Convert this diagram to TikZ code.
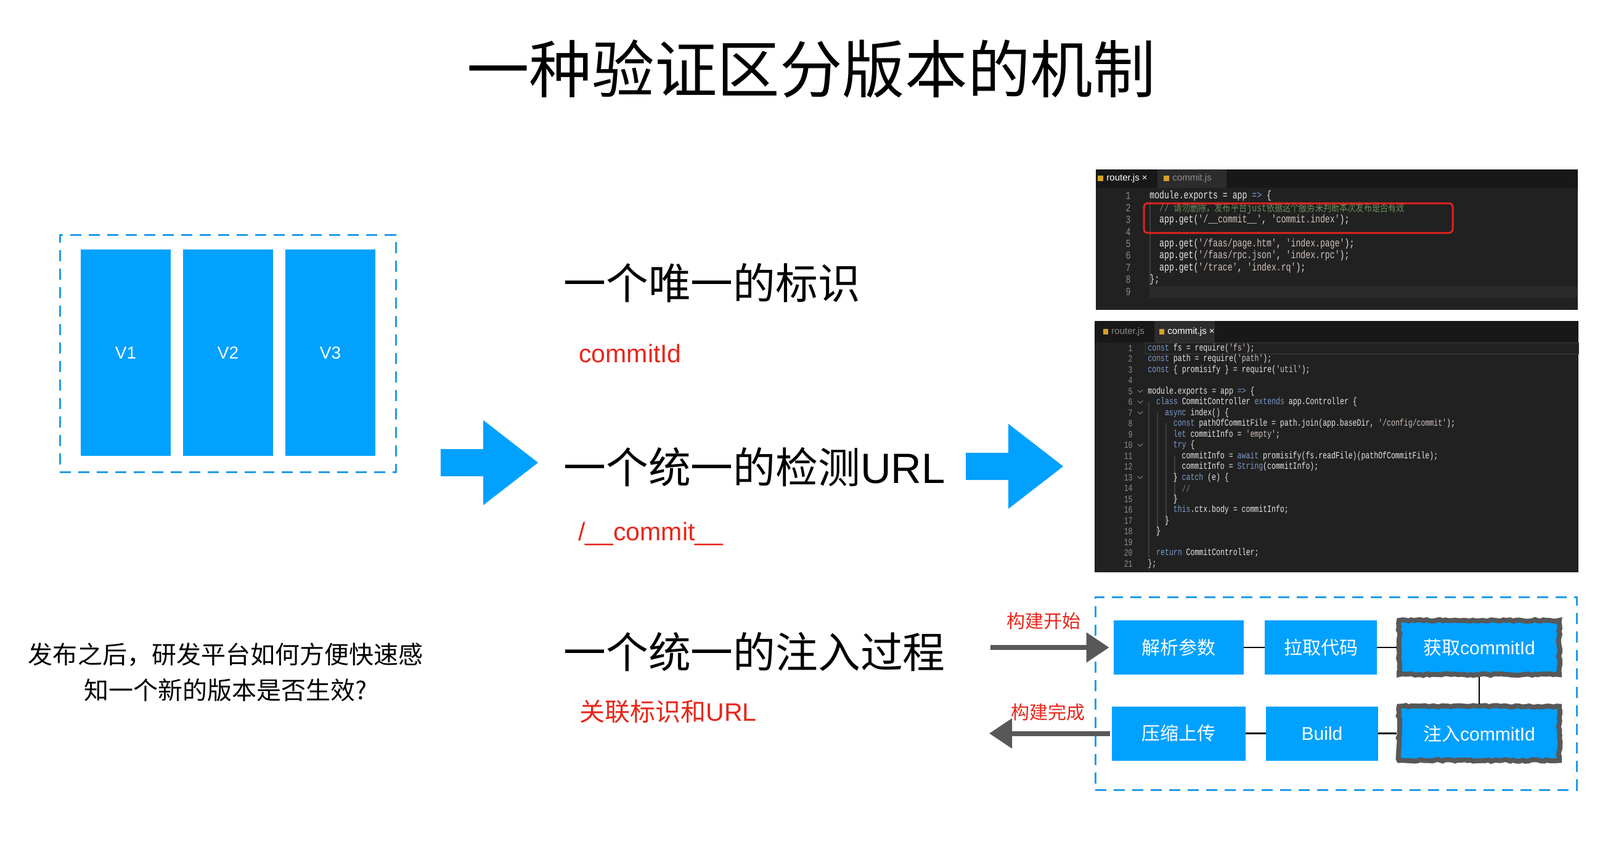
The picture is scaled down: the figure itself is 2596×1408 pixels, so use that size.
\documentclass[tikz,border=0pt]{standalone}
\usepackage{fontspec}
\setmainfont{Liberation Sans}
\newfontfamily\cjk{Noto Sans CJK SC}
\newfontfamily\codefont[FakeStretch=0.74,Ligatures=TeXOff]{Liberation Mono}
\newfontfamily\cjkcode[FakeStretch=0.74]{Noto Sans CJK SC}
\usetikzlibrary{arrows.meta,decorations.pathmorphing}
\definecolor{vblue}{RGB}{0,161,255}
\definecolor{dashblue}{RGB}{30,155,232}
\definecolor{tred}{RGB}{232,38,26}
\definecolor{sketch}{RGB}{88,88,88}
\definecolor{edbg}{RGB}{33,33,33}
\definecolor{tabbar}{RGB}{24,24,24}
\definecolor{tabon}{RGB}{44,44,44}
\definecolor{codefg}{RGB}{232,232,232}
\definecolor{lnum}{RGB}{140,140,140}
\definecolor{kw}{RGB}{125,155,205}
\definecolor{strc}{RGB}{210,195,190}
\definecolor{cmt}{RGB}{105,145,90}
\definecolor{guide}{RGB}{62,62,62}
\definecolor{curline}{RGB}{42,42,42}
\definecolor{jsicon}{RGB}{215,160,40}
\definecolor{hlred}{RGB}{225,35,30}
\newcommand\kwd[1]{\textcolor{kw}{#1}}
\newcommand\strg[1]{\textcolor{strc}{#1}}
\newcommand\codeT[3]{%
  \node[lnt] (tn#1) at (1835,{318+(#1-1)*19.4}) {#1};
  \node[cdt] (tc#1) at ({1865+#2*7.9},{318+(#1-1)*19.4}) {#3};}
\newcommand\codeB[3]{%
  \node[lnb] (bn#1) at (1838,{565+(#1-1)*17.5}) {#1};
  \node[cdb] (bc#1) at ({1862+#2*6.9},{565+(#1-1)*17.5}) {#3};}
\newcommand\foldmark[1]{%
  \draw[lnum, line width=0.5pt] (1846,{565+(#1-1)*17.5-2}) -- (1850,{565+(#1-1)*17.5+2}) -- (1854,{565+(#1-1)*17.5-2});}
\tikzset{
  vbox/.style={fill=vblue, text=white, font=\fontsize{14}{16}\selectfont, minimum width=73pt, minimum height=167.5pt, inner sep=0},
  dashbox/.style={draw=dashblue, line width=1.5pt, dash pattern=on 9pt off 6pt, inner sep=0},
  flowbox/.style={fill=vblue, text=white, font=\fontsize{15}{18}\selectfont, minimum height=44pt, inner sep=0},
  roughbox/.style={flowbox, draw=sketch, line width=4pt, decorate, decoration={random steps, segment length=2.5pt, amplitude=0.7pt}},
  link/.style={draw=black, line width=1.3pt},
  sketcharrow/.style={draw=sketch, line width=4pt, -{Triangle[length=18.5pt,width=23.5pt]}},
  bigtitle/.style={font=\cjk\fontsize{50.8}{60}\selectfont, inner sep=0},
  headline/.style={font=\fontsize{34.4}{40}\selectfont, anchor=west, inner sep=0},
  redline/.style={font=\fontsize{20.5}{24}\selectfont, text=tred, anchor=base west, inner sep=0},
  smallred/.style={font=\cjk\fontsize{15}{18}\selectfont, text=tred, inner sep=0},
  lnt/.style={font=\codefont\fontsize{8.9}{10}\selectfont, text=lnum, anchor=east, inner sep=0},
  cdt/.style={font=\codefont\fontsize{8.9}{10}\selectfont, text=codefg, anchor=west, inner sep=0},
  lnb/.style={font=\codefont\fontsize{7.8}{9}\selectfont, text=lnum, anchor=east, inner sep=0},
  cdb/.style={font=\codefont\fontsize{7.8}{9}\selectfont, text=codefg, anchor=west, inner sep=0},
  tabtxt/.style={font=\fontsize{7.5}{9}\selectfont, anchor=west, inner sep=0},
}
\begin{document}
\begin{tikzpicture}[x=0.5pt, y=-0.5pt]
\fill[white] (0,0) rectangle (2596,1408);
\useasboundingbox (0,0) rectangle (2596,1408);

% title
\node[bigtitle] (title) at (1316,112) {一种验证区分版本的机制};

% left group of versions
\node[dashbox, minimum width=272.5pt, minimum height=192.5pt] (vgroup) at (369.5,573.5) {};
\node[vbox] (v1) at (204,572.5) {V1};
\node[vbox] (v2) at (370,572.5) {V2};
\node[vbox] (v3) at (536,572.5) {V3};

% question
\node[font=\cjk\fontsize{20}{29}\selectfont, align=center, inner sep=0] (q) at (366,1091) {发布之后，研发平台如何方便快速感\\知一个新的版本是否生效?};

% big arrows
\fill[vblue] (715,729) -- (784,729) -- (784,682) -- (873,751) -- (784,820) -- (784,773) -- (715,773) -- cycle;
\fill[vblue] (1567,735) -- (1636,735) -- (1636,688) -- (1725,757) -- (1636,826) -- (1636,779) -- (1567,779) -- cycle;

% middle texts
\node[headline] (h1) at (914,459) {\cjk 一个唯一的标识};
\node[redline] (r1) at (939,588) {commitId};
\node[headline] (h2) at (914,758) {{\cjk 一个统一的检测}URL};
\node[redline] (r2) at (938,877) {/\_\_commit\_\_};
\node[headline] (h3) at (914,1058) {\cjk 一个统一的注入过程};
\node[redline] (r3) at (940,1170) {{\cjk 关联标识和}URL};

% ---------- top code screenshot ----------
\fill[edbg] (1778,275) rectangle (2560,503);
\fill[tabbar] (1778,275) rectangle (2560,305);
\fill[tabon] (1878,275) rectangle (1990,305);
\fill[curline] (1865,465) rectangle (2560,484);
\draw[guide, line width=0.6pt] (1866,327) -- (1866,464);
\fill[jsicon] (1781,285) rectangle (1790,294);
\node[tabtxt, text=white] (tt1) at (1795,290) {router.js ×};
\fill[jsicon] (1888,285) rectangle (1897,294);
\node[tabtxt, text=lnum] (tt2) at (1902,290) {commit.js};
\codeT{1}{0}{module.exports = app \kwd{=>} \{}
\codeT{2}{2}{\textcolor{cmt}{// {\cjkcode 请勿删除，发布平台}just{\cjkcode 依据这个服务来判断本次发布是否有效}}}
\codeT{3}{2}{app.get(\strg{'/\_\_commit\_\_'}, \strg{'commit.index'});}
\codeT{4}{0}{}
\codeT{5}{2}{app.get(\strg{'/faas/page.htm'}, \strg{'index.page'});}
\codeT{6}{2}{app.get(\strg{'/faas/rpc.json'}, \strg{'index.rpc'});}
\codeT{7}{2}{app.get(\strg{'/trace'}, \strg{'index.rq'});}
\codeT{8}{0}{\};}
\codeT{9}{0}{}
\draw[hlred, line width=1.5pt, rounded corners=3pt] (1856,330) rectangle (2357,378);

% ---------- bottom code screenshot ----------
\fill[edbg] (1776,521) rectangle (2561,929);
\fill[tabbar] (1776,521) rectangle (2561,556);
\fill[tabon] (1873,521) rectangle (1971,556);
\draw[guide, line width=0.5pt] (1858,556) rectangle (2561,574);
\fill[jsicon] (1790,534) rectangle (1798,543);
\node[tabtxt, text=lnum] (bt1) at (1803,539) {router.js};
\fill[jsicon] (1881,534) rectangle (1889,543);
\node[tabtxt, text=white] (bt2) at (1894,539) {commit.js ×};
\draw[guide, line width=0.6pt] (1864,652) -- (1864,906);
\draw[guide, line width=0.6pt] (1878,670) -- (1878,871);
\draw[guide, line width=0.6pt] (1892,687) -- (1892,853);
\draw[guide, line width=0.6pt] (1906,740) -- (1906,818);
\codeB{1}{0}{\kwd{const} fs = require(\strg{'fs'});}
\codeB{2}{0}{\kwd{const} path = require(\strg{'path'});}
\codeB{3}{0}{\kwd{const} \{ promisify \} = require(\strg{'util'});}
\codeB{4}{0}{}
\codeB{5}{0}{module.exports = app \kwd{=>} \{}
\codeB{6}{2}{\kwd{class} CommitController \kwd{extends} app.Controller \{}
\codeB{7}{4}{\kwd{async} index() \{}
\codeB{8}{6}{\kwd{const} pathOfCommitFile = path.join(app.baseDir, \strg{'/config/commit'});}
\codeB{9}{6}{\kwd{let} commitInfo = \strg{'empty'};}
\codeB{10}{6}{\kwd{try} \{}
\codeB{11}{8}{commitInfo = \kwd{await} promisify(fs.readFile)(pathOfCommitFile);}
\codeB{12}{8}{commitInfo = \kwd{String}(commitInfo);}
\codeB{13}{6}{\} \kwd{catch} (e) \{}
\codeB{14}{8}{\textcolor{cmt}{//}}
\codeB{15}{6}{\}}
\codeB{16}{6}{\kwd{this}.ctx.body = commitInfo;}
\codeB{17}{4}{\}}
\codeB{18}{2}{\}}
\codeB{19}{0}{}
\codeB{20}{2}{\kwd{return} CommitController;}
\codeB{21}{0}{\};}
\foldmark{5}
\foldmark{6}
\foldmark{7}
\foldmark{10}
\foldmark{13}

% ---------- build flow ----------
\node[dashbox, minimum width=390.5pt, minimum height=156.5pt] (flowgroup) at (2167.5,1125.5) {};
\node[flowbox, minimum width=105.5pt] (p1) at (1912.5,1051) {\cjk 解析参数};
\node[flowbox, minimum width=91pt] (p2) at (2143,1051) {\cjk 拉取代码};
\node[roughbox, minimum width=130pt] (p3) at (2400,1051) {{\cjk 获取}commitId};
\node[roughbox, minimum width=130pt] (p4) at (2400,1190.5) {{\cjk 注入}commitId};
\node[flowbox, minimum width=91pt] (p6) at (2145,1190.5) {Build};
\node[flowbox, minimum width=108.5pt] (p5) at (1912.5,1190.5) {\cjk 压缩上传};
\draw[link] (p1) -- (p2);
\draw[link] (p2) -- (p3);
\draw[link] (p3) -- (p4);
\draw[link] (p4) -- (p6);
\draw[link] (p6) -- (p5);

\node[smallred] (lstart) at (1693,1008) {构建开始};
\node[smallred] (lend) at (1700,1156) {构建完成};
\coordinate (bstart) at (1607,1051);
\coordinate (bend) at (1605,1190.5);
\draw[sketcharrow, shorten >=3.5pt] (bstart) -- (p1.west);
\draw[sketcharrow, shorten <=1.5pt] (p5.west) -- (bend);
\end{tikzpicture}
\end{document}
